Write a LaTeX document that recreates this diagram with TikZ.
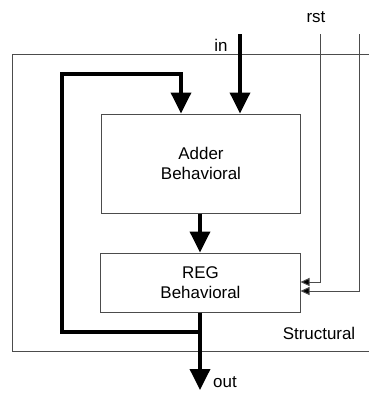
\documentclass[tikz,border=0pt]{standalone}
\usepackage{fontspec}
\setmainfont{Liberation Sans}
\usetikzlibrary{arrows.meta}
\begin{document}
\begin{tikzpicture}[x=1bp, y=-1bp, font=\fontsize{17}{20}\selectfont, line join=miter,
	blk/.style={draw=black!70, line width=1bp, minimum width=199bp, align=center, inner sep=0pt},
	bus/.style={line width=3.6bp, -{Triangle[width=20bp,length=21bp]}},
	sig/.style={draw=black!70, line width=1bp, -{Triangle[width=8bp,length=9bp,fill=black]}}]
	\def \wmax{369};
	\def \hmax{395};
	\clip (0,0) rectangle (\wmax,\hmax);
	\useasboundingbox (0,0) rectangle (\wmax,\hmax);
	% outer block
	\draw[black!70, line width=1bp] (12,54) rectangle (390,351);
	\node at (319,333) (structlbl) {Structural};
	% inner blocks
	\node[blk, minimum height=99bp] at (201,163.5) (adder) {Adder\\Behavioral};
	\node[blk, minimum height=59bp] at (200.5,282.5) (reg) {REG\\Behavioral};
	% ports
	\coordinate (in) at (240,34);
	\coordinate (rsta) at (320,34);
	\coordinate (rstb) at (359,34);
	\coordinate (out) at (200,390);
	\node at (221,45) (inlbl) {in};
	\node at (316,17) (rstlbl) {rst};
	\node at (225,382) (outlbl) {out};
	% data path
	\draw[bus] (in) -- (in |- adder.north);
	\draw[bus] (adder.south -| 200,0) -- (reg.north -| 200,0);
	\draw[bus] (reg.south -| 200,0) -- (out);
	\draw[bus] (reg.south -| 200,0) -- (200,332) -- (62,332) -- (62,74) -- (181,74) -- (adder.north -| 181,0);
	% reset lines
	\draw[sig] (rsta) -- (320,282) -- (reg.east |- 0,282);
	\draw[sig] (rstb) -- (359,291) -- (reg.east |- 0,291);
\end{tikzpicture}
\end{document}
